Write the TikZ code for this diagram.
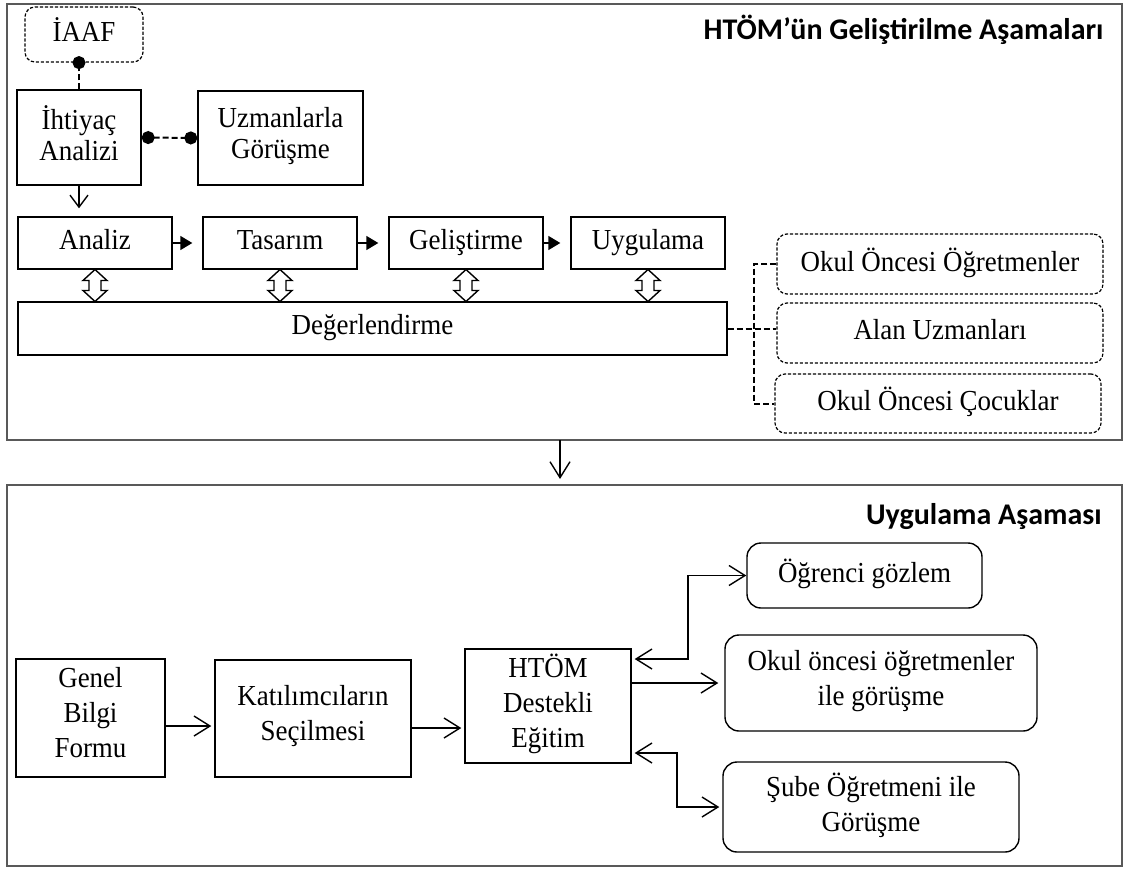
\documentclass[tikz,border=0pt]{standalone}
\usepackage{fontspec}
\setmainfont{Liberation Serif}[FakeStretch=0.93]
\newfontfamily\titlefont{Carlito}
\usetikzlibrary{arrows.meta,calc}
\begin{document}
\begin{tikzpicture}[x=0.5pt,y=-0.5pt,
  every node/.style={font=\fontsize{14.5}{15.5}\selectfont, align=center, inner sep=0pt},
  lo/.style={font=\fontsize{14.5}{17.5}\selectfont},
  box/.style={draw, line width=0.7pt, minimum width=77pt, minimum height=26pt, execute at begin node=\strut, execute at end node=\strut},
  dbox/.style={draw, rounded corners=5pt, dash pattern=on 1.6pt off 0.9pt, line width=0.6pt, minimum width=163pt, minimum height=30pt, execute at begin node=\strut, execute at end node=\strut},
  rbox/.style={draw, rounded corners=7pt, line width=0.7pt, execute at begin node=\strut, execute at end node=\strut},
  framebox/.style={draw=black!65, line width=1pt},
  dconn/.style={line width=1pt, dash pattern=on 3pt off 1.5pt},
  barb/.style={-{Straight Barb[length=8pt,width=10pt]}, line width=0.7pt},
  dbarb/.style={{Straight Barb[length=8pt,width=10pt]}-{Straight Barb[length=8pt,width=10pt]}, line width=0.7pt},
  tri/.style={-{Triangle[length=6pt,width=7pt]}, line width=0.7pt},
  ttl/.style={font=\titlefont\bfseries\fontsize{15}{17}\selectfont, anchor=east},
  updown/.pic={\draw[line width=0.7pt, fill=white] (0,16) -- (12,5) -- (6,5) -- (6,-5) -- (12,-5) -- (0,-16) -- (-12,-5) -- (-6,-5) -- (-6,5) -- (-12,5) -- cycle;}
]
\fill[white] (0,0) rectangle (1123,868);
\useasboundingbox (0,0) rectangle (1123,868);

% frames
\draw[framebox] (7,4) rectangle (1122,440);
\draw[framebox] (7,485) rectangle (1122,866);
\coordinate (ftop) at (560,440);
\coordinate (fbot) at (560,485);
\draw[barb, shorten >=3pt] (ftop) -- (fbot);

% titles
\node[ttl] (t1) at (1104,30) {HTÖM’ün Geliştirilme Aşamaları};
\node[ttl] (t2) at (1102,517) {Uygulama Aşaması};

% top section
\node[dbox, minimum width=59pt, minimum height=27.5pt] (iaaf) at (84,34.5) {İAAF};
\node[box, minimum width=62pt, minimum height=47.5pt] (ih) at (79,137.5) {İhtiyaç\\Analizi};
\node[box, minimum width=82.5pt, minimum height=47pt] (uz) at (280.5,138) {Uzmanlarla\\Görüşme};

\node[box] (an) at (95,243) {Analiz};
\node[box] (ta) at (280,243) {Tasarım};
\node[box] (ge) at (466,243) {Geliştirme};
\node[box] (uy) at (648,243) {Uygulama};
\node[box, minimum width=354.5pt, minimum height=26.5pt] (dg) at (372.5,328.5) {Değerlendirme};

\node[dbox] (ook) at (940,264) {Okul Öncesi Öğretmenler};
\node[dbox] (au) at (940,333) {Alan Uzmanları};
\node[dbox, minimum height=29.5pt] (ooc) at (938,403.5) {Okul Öncesi Çocuklar};

\draw[dconn, -{Circle[length=6.5pt]}, shorten >=-3.25pt] (ih.north) -- (ih.north |- iaaf.south);
\draw[dconn, {Circle[length=6.5pt]}-{Circle[length=6.5pt]}] (ih.east) -- (uz.west);
\draw[-{Straight Barb[length=6pt,width=9pt]}, line width=0.7pt, shorten >=4pt] (ih.south) -- (ih.south |- an.north);

\draw[tri, shorten >=5pt] (an.east) -- (ta.west);
\draw[tri, shorten >=5pt] (ta.east) -- (ge.west);
\draw[tri, shorten >=5pt] (ge.east) -- (uy.west);

\foreach \n in {an,ta,ge,uy}{
  \path ($(\n.south)!0.5!(\n.south |- dg.north)$) pic {updown};
}

\coordinate (bus) at (754,0);
\draw[dconn] (dg.east) -- (dg.east -| au.west);
\draw[dconn] (ook.west) -- (bus |- ook.west) -- (bus |- ooc.west) -- (ooc.west);

% bottom section
\node[box, lo, minimum width=74.5pt, minimum height=59pt] (gbf) at (90.5,718) {Genel\\Bilgi\\Formu};
\node[box, lo, minimum width=98pt, minimum height=58.5pt] (kat) at (313,718.5) {Katılımcıların\\Seçilmesi};
\node[box, lo, minimum width=83pt, minimum height=57pt] (htom) at (548,706) {HTÖM\\Destekli\\Eğitim};
\node[rbox, lo, minimum width=117.5pt, minimum height=32.5pt] (og) at (864.5,575.5) {Öğrenci gözlem};
\node[rbox, lo, minimum width=156pt, minimum height=48pt] (oo) at (881,683) {Okul öncesi öğretmenler\\ile görüşme};
\node[rbox, lo, minimum width=148pt, minimum height=45pt] (sb) at (871,807) {Şube Öğretmeni ile\\Görüşme};

\coordinate (r1) at (0,726);
\coordinate (r2) at (0,728);
\draw[barb, shorten >=1.5pt] (gbf.east |- r1) -- (kat.west |- r1);
\draw[barb, shorten >=1.5pt] (kat.east |- r2) -- (htom.west |- r2);
\draw[barb, shorten >=3pt] (htom.east |- oo.west) -- (oo.west);
\coordinate (b1) at (688,659);
\coordinate (b2) at (677,753);
\draw[dbarb, shorten <=1.5pt] (htom.east |- b1) -- (b1) -- (b1 |- og.west) -- (og.west);
\draw[dbarb, shorten <=1.5pt, shorten >=1.5pt] (htom.east |- b2) -- (b2) -- (b2 |- sb.west) -- (sb.west);
\end{tikzpicture}
\end{document}
